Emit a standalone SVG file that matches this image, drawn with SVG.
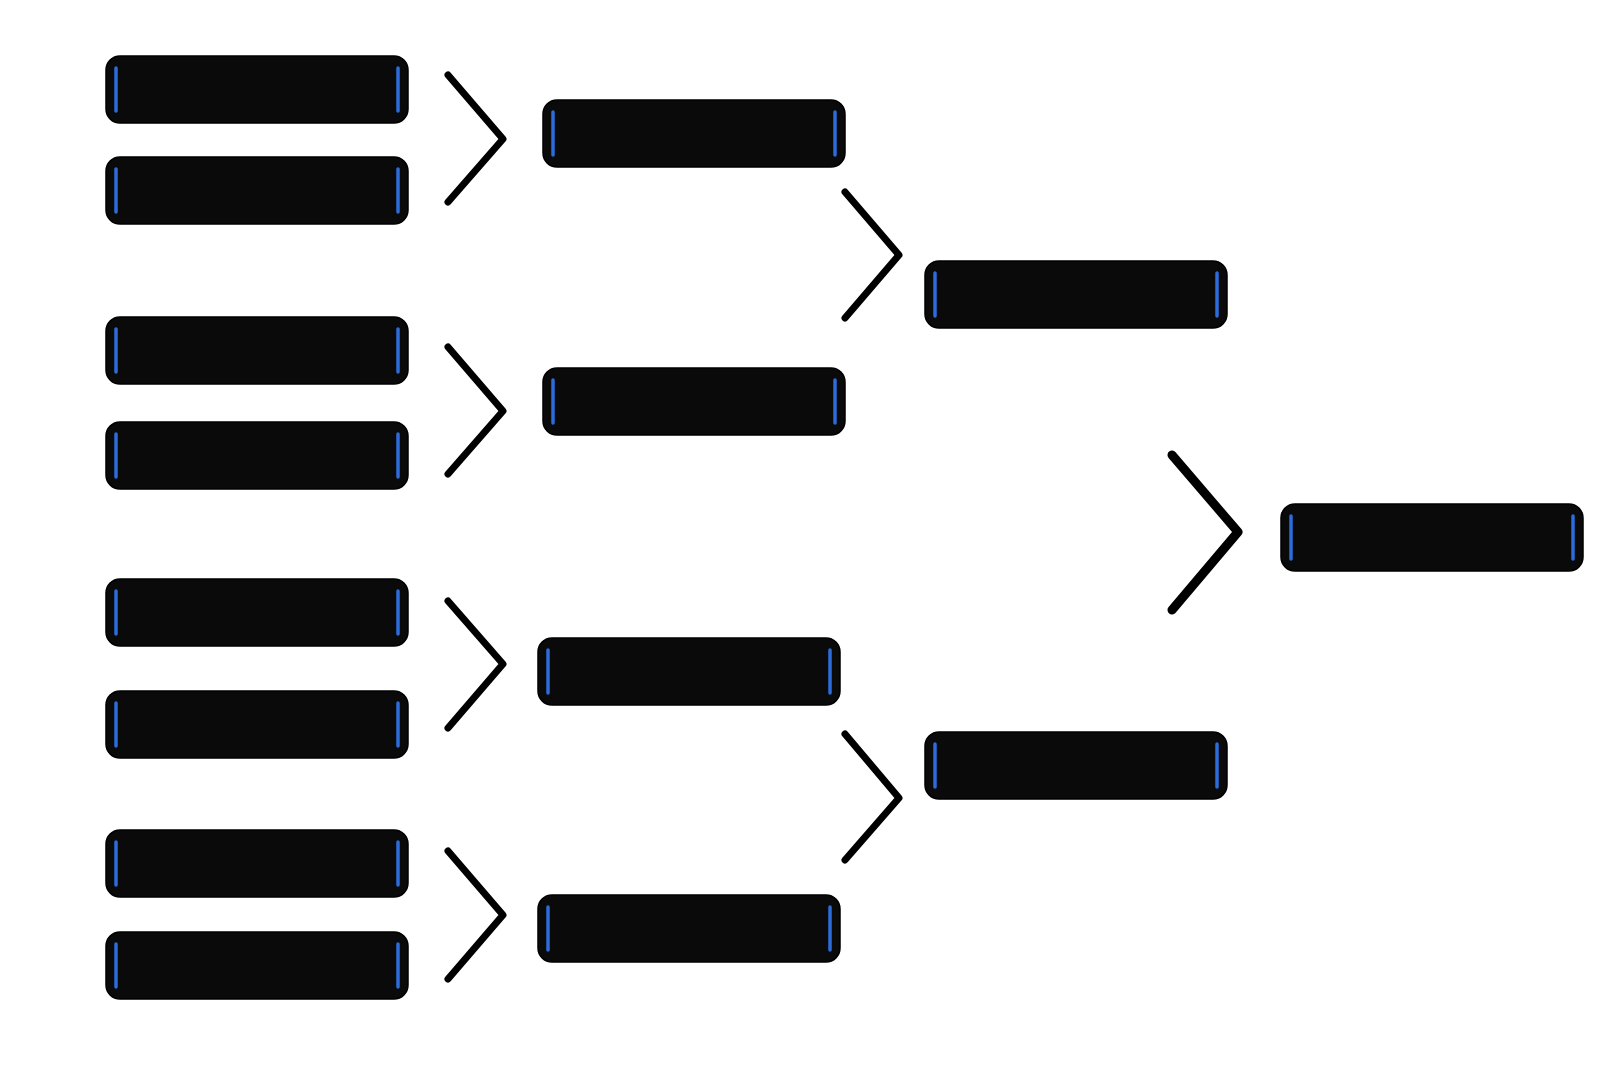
<svg xmlns="http://www.w3.org/2000/svg" width="1600" height="1066" viewBox="0 0 1600 1066">
<style>
.box{fill:#0a0a0a;stroke:#000;stroke-width:1.5}
.tick{stroke:#2c6ddb;stroke-width:3.5;stroke-linecap:round}
.conn{fill:none;stroke:#000;stroke-width:7;stroke-linecap:round;stroke-linejoin:round}
</style>
<defs>
<g id="slot">
<rect class="box" x="0" y="0" width="302" height="67" rx="14"/>
<line class="tick" x1="10" y1="12" x2="10" y2="55"/>
<line class="tick" x1="292" y1="12" x2="292" y2="55"/>
</g>
</defs>
<rect width="1600" height="1066" fill="#fff"/>
<g id="connectors">
<polyline class="conn" points="448,75 503,139 448,202"/>
<polyline class="conn" points="448,347 503,411 448,474"/>
<polyline class="conn" points="448,601 503,664 448,728"/>
<polyline class="conn" points="448,851 503,915 448,979"/>
<polyline class="conn" points="845,192 899,255 845,318"/>
<polyline class="conn" points="845,734 899,798 845,860"/>
<polyline class="conn" points="1172,455 1238,532 1172,610" style="stroke-width:9"/>
</g>
<g id="r1-1"><use href="#slot" x="106" y="56"/></g>
<g id="r1-2"><use href="#slot" x="106" y="157"/></g>
<g id="r1-3"><use href="#slot" x="106" y="317"/></g>
<g id="r1-4"><use href="#slot" x="106" y="422"/></g>
<g id="r1-5"><use href="#slot" x="106" y="579"/></g>
<g id="r1-6"><use href="#slot" x="106" y="691"/></g>
<g id="r1-7"><use href="#slot" x="106" y="830"/></g>
<g id="r1-8"><use href="#slot" x="106" y="932"/></g>
<g id="r2-1"><use href="#slot" x="543" y="100"/></g>
<g id="r2-2"><use href="#slot" x="543" y="368"/></g>
<g id="r2-3"><use href="#slot" x="538" y="638"/></g>
<g id="r2-4"><use href="#slot" x="538" y="895"/></g>
<g id="r3-1"><use href="#slot" x="925" y="261"/></g>
<g id="r3-2"><use href="#slot" x="925" y="732"/></g>
<g id="final"><use href="#slot" x="1281" y="504"/></g>
</svg>
